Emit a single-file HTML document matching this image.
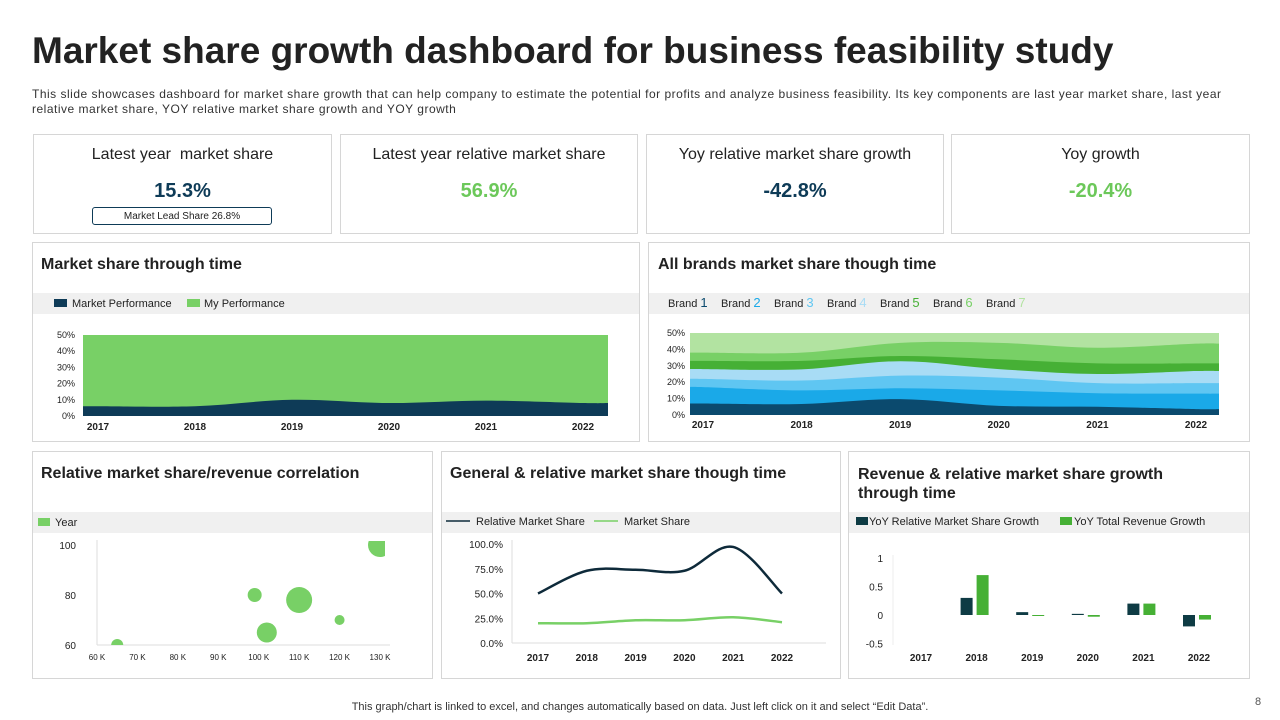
<!DOCTYPE html>
<html><head><meta charset="utf-8">
<style>
body{margin:0;width:1280px;height:720px;background:#fff;font-family:"Liberation Sans",sans-serif;position:relative;overflow:hidden;color:#222}
.abs{position:absolute}
.card{position:absolute;border:1px solid #d6d6d6;background:#fff;box-sizing:border-box}
.ct{position:absolute;left:0;right:0;text-align:center;font-size:16px;color:#222}
.cv{position:absolute;left:0;right:0;text-align:center;font-size:20px;font-weight:bold}
.pt{position:absolute;font-size:16px;color:#222;font-weight:bold}
.band{position:absolute;left:0;right:0;background:#f0f0f0;height:21px}
svg text{font-family:"Liberation Sans",sans-serif}
</style></head><body>
<div class="abs" style="left:32px;top:30px;font-size:37px;font-weight:bold;color:#222">Market share growth dashboard for business feasibility study</div>
<div class="abs" style="left:32px;top:87px;width:1240px;font-size:12px;line-height:15px;color:#333;white-space:nowrap;letter-spacing:0.5px">This slide showcases dashboard for market share growth that can help company to estimate the potential for profits and analyze business feasibility. Its key components are last year market share, last year<br>relative market share, YOY relative market share growth and YOY growth</div>

<div class="card" style="left:33px;top:134px;width:299px;height:100px">
<div class="ct" style="top:11px">Latest year &nbsp;market share</div>
<div class="cv" style="top:45px;color:#0e3b57">15.3%</div>
<div class="abs" style="left:58px;top:72px;width:180px;height:18px;border:1px solid #0e3b57;border-radius:3px;font-size:10px;text-align:center;line-height:18px;box-sizing:border-box">Market Lead Share 26.8%</div>
</div>
<div class="card" style="left:340px;top:134px;width:298px;height:100px">
<div class="ct" style="top:11px">Latest year relative market share</div>
<div class="cv" style="top:45px;color:#6cc85a">56.9%</div></div>
<div class="card" style="left:646px;top:134px;width:298px;height:100px">
<div class="ct" style="top:11px">Yoy relative market share growth</div>
<div class="cv" style="top:45px;color:#0e3b57">-42.8%</div></div>
<div class="card" style="left:951px;top:134px;width:299px;height:100px">
<div class="ct" style="top:11px">Yoy growth</div>
<div class="cv" style="top:45px;color:#6cc85a">-20.4%</div></div>

<div class="card" style="left:32px;top:242px;width:608px;height:200px">
<div class="pt" style="left:8px;top:13px">Market share through time</div>
<div class="band" style="top:50px"></div></div>
<div class="card" style="left:648px;top:242px;width:602px;height:200px">
<div class="pt" style="left:9px;top:13px">All brands market share though time</div>
<div class="band" style="top:50px"></div></div>
<div class="card" style="left:32px;top:451px;width:401px;height:228px">
<div class="pt" style="left:8px;top:13px">Relative market share/revenue correlation</div>
<div class="band" style="top:60px"></div></div>
<div class="card" style="left:441px;top:451px;width:400px;height:228px">
<div class="pt" style="left:8px;top:13px">General &amp; relative market share though time</div>
<div class="band" style="top:60px"></div></div>
<div class="card" style="left:848px;top:451px;width:402px;height:228px">
<div class="pt" style="left:9px;top:13px;line-height:19px">Revenue &amp; relative market share growth<br>through time</div>
<div class="band" style="top:60px"></div></div>

<svg id="ch" class="abs" style="left:0;top:0" width="1280" height="720"></svg>

<div class="abs" style="left:0;width:1280px;top:701px;text-align:center;font-size:11px;color:#333">This graph/chart is linked to excel, and changes automatically based on data. Just left click on it and select “Edit Data”.</div>
<div class="abs" style="left:1255px;top:696px;font-size:11px;color:#555">8</div>

<script>
const years=["2017","2018","2019","2020","2021","2022"];
const marketPerf=[6,6,10,8,9.5,8];
const myPerfTotal=[50,50,50,50,50,50];
const brandNames=["Brand 1","Brand 2","Brand 3","Brand 4","Brand 5","Brand 6","Brand 7"];
const brand1=[7,6.7,9.7,5.6,5,3.6];
const brand2=[10,8.3,6.6,9.4,8.3,9.4];
const brand3=[5,6,7.7,7.8,6.1,6.4];
const brand4=[6,6.8,8.8,5.2,5.6,7.4];
const brand5=[5,5.2,3.2,6,6.5,4.7];
const brand6=[5,5,8,10,9.5,12];
const brand7=[12,12,6,6,9,6.5];
const pctTicks=[0,10,20,30,40,50];
const bubbleX=[65,99,102,110,120,130];
const bubbleY=[60,80,65,78,70,100];
const bubbleSize=[6,7,10,13,5,12];
const xTicksK=[60,70,80,90,100,110,120,130];
const yTicksScatter=[60,80,100];
const relShare=[50,73,74,73,97,50];
const mktShare=[20,20,23,23,26,21];
const lineTicks=[0,25,50,75,100];
const yoyRel=[0,0.3,0.05,0.02,0.2,-0.2];
const yoyRev=[0,0.7,-0.01,-0.03,0.2,-0.08];
const barTicks=[-0.5,0,0.5,1];

const svg=document.getElementById('ch');const NS="http://www.w3.org/2000/svg";
function el(t,a,txt){const e=document.createElementNS(NS,t);for(const k in a)e.setAttribute(k,a[k]);if(txt!==undefined)e.textContent=txt;svg.appendChild(e);return e;}
function smooth(pts){let d="M"+pts[0][0]+","+pts[0][1];for(let i=0;i<pts.length-1;i++){const p0=pts[Math.max(i-1,0)],p1=pts[i],p2=pts[i+1],p3=pts[Math.min(i+2,pts.length-1)];const c1=[p1[0]+(p2[0]-p0[0])/6,p1[1]+(p2[1]-p0[1])/6],c2=[p2[0]-(p3[0]-p1[0])/6,p2[1]-(p3[1]-p1[1])/6];d+=" C"+c1+" "+c2+" "+p2;}return d;}

// Chart 1
{const X=i=>98+i*97,Y=v=>416-v*81/50,L=83,R=608;
let e;
e=el('rect',{x:54,y:299,width:13,height:8,fill:'#0e3b57'});
el('text',{x:72,y:307,'font-size':11,fill:'#222'},'Market Performance');
e=el('rect',{x:187,y:299,width:13,height:8,fill:'#78d066'});
el('text',{x:204,y:307,'font-size':11,fill:'#222'},'My Performance');
const top=[[L,Y(myPerfTotal[0])]].concat(myPerfTotal.map((v,i)=>[X(i),Y(v)])).concat([[R,Y(myPerfTotal[5])]]);
e=el('path',{d:smooth(top)+` L${R},416 L${L},416 Z`,fill:'#78d066'});
const mp=[[L,Y(marketPerf[0])]].concat(marketPerf.map((v,i)=>[X(i),Y(v)])).concat([[R,Y(marketPerf[5])]]);
e=el('path',{d:smooth(mp)+` L${R},416 L${L},416 Z`,fill:'#0e3b57'});
pctTicks.forEach(t=>el('text',{x:75,y:Y(t)+3,'font-size':9,'text-anchor':'end',fill:'#222'},t+'%'));
years.forEach((y,i)=>el('text',{x:X(i),y:430,'font-size':10,'font-weight':'bold','text-anchor':'middle',fill:'#222'},y));}

// Chart 2
{const X=i=>703+i*98.6,Y=v=>415-v*82/50,L=690,R=1219;
const cols=['#0b4a6e','#1aa9e8','#5fc6f2','#a8dcf5','#46b035','#78d066','#b2e3a1'];
const series=[brand1,brand2,brand3,brand4,brand5,brand6,brand7];
let lx=668;
brandNames.forEach((b,k)=>{const t=el('text',{x:lx,y:307,'font-size':11,fill:'#222'},'Brand ');
const ts=document.createElementNS(NS,'tspan');ts.setAttribute('fill',cols[k]);ts.setAttribute('font-size','13');ts.textContent=String(k+1);t.appendChild(ts);lx+=53;});
let base=[0,0,0,0,0,0];
const layers=series.map(s=>{const lo=base.slice();base=base.map((v,i)=>v+s[i]);return [lo,base.slice()];});
for(let k=6;k>=0;k--){const hi=layers[k][1];
const p=[[L,Y(hi[0])]].concat(hi.map((v,i)=>[X(i),Y(v)])).concat([[R,Y(hi[5])]]);
const e=el('path',{d:smooth(p)+` L${R},415 L${L},415 Z`,fill:cols[k]});}
pctTicks.forEach(t=>el('text',{x:685,y:Y(t)+3,'font-size':9,'text-anchor':'end',fill:'#222'},t+'%'));
years.forEach((y,i)=>el('text',{x:X(i),y:428,'font-size':10,'font-weight':'bold','text-anchor':'middle',fill:'#222'},y));}

// Scatter
{const X=v=>97+(v-60)*(283/70),Y=v=>645-(v-60)*2.5;
let e=el('rect',{x:38,y:518,width:12,height:8,fill:'#78d066'});
el('text',{x:55,y:526,'font-size':11,fill:'#222'},'Year');
el('line',{x1:97,y1:540,x2:97,y2:645,stroke:'#ddd'});el('line',{x1:97,y1:645,x2:390,y2:645,stroke:'#ddd'});
const clip=el('clipPath',{id:'sc'});const cp=document.createElementNS(NS,'rect');
cp.setAttribute('x',97);cp.setAttribute('y',541);cp.setAttribute('width',288);cp.setAttribute('height',104);clip.appendChild(cp);
bubbleX.forEach((v,i)=>{const c=el('circle',{cx:X(v),cy:Y(bubbleY[i]),r:bubbleSize[i],fill:'#78d066','clip-path':'url(#sc)'});});
yTicksScatter.forEach(t=>el('text',{x:76,y:Y(t)+4,'font-size':10,'text-anchor':'end',fill:'#222'},t));
xTicksK.forEach(t=>el('text',{x:X(t),y:660,'font-size':8,'text-anchor':'middle',fill:'#222'},t+' K'));}

// Line chart
{const X=i=>538+i*48.8,Y=v=>643-v*0.99;
let e=el('line',{x1:446,y1:521,x2:470,y2:521,stroke:'#0e2a3a','stroke-width':1.5});
el('text',{x:476,y:525,'font-size':11,fill:'#222'},'Relative Market Share');
e=el('line',{x1:594,y1:521,x2:618,y2:521,stroke:'#78d066','stroke-width':1.5});
el('text',{x:624,y:525,'font-size':11,fill:'#222'},'Market Share');
el('line',{x1:512,y1:643,x2:826,y2:643,stroke:'#ddd'});el('line',{x1:512,y1:540,x2:512,y2:643,stroke:'#ddd'});
lineTicks.forEach(t=>el('text',{x:503,y:Y(t)+4,'font-size':10,'text-anchor':'end',fill:'#222'},t.toFixed(1)+'%'));
years.forEach((y,i)=>el('text',{x:X(i),y:661,'font-size':10,'font-weight':'bold','text-anchor':'middle',fill:'#222'},y));
e=el('path',{d:smooth(mktShare.map((v,i)=>[X(i),Y(v)])),fill:'none',stroke:'#78d066','stroke-width':2.5});
e=el('path',{d:smooth(relShare.map((v,i)=>[X(i),Y(v)])),fill:'none',stroke:'#0e2a3a','stroke-width':2.5});}

// Bar chart
{const X=i=>921+i*55.6,Y=v=>615-v*57;
let e=el('rect',{x:856,y:517,width:12,height:8,fill:'#0e3b44'});
el('text',{x:869,y:525,'font-size':11,fill:'#222'},'YoY Relative Market Share Growth');
e=el('rect',{x:1060,y:517,width:12,height:8,fill:'#46b035'});
el('text',{x:1074,y:525,'font-size':11,fill:'#222'},'YoY Total Revenue Growth');
el('line',{x1:893,y1:555,x2:893,y2:645,stroke:'#eee'});
barTicks.forEach(t=>el('text',{x:883,y:Y(t)+4,'font-size':10,'text-anchor':'end',fill:'#222'},t));
years.forEach((y,i)=>{el('text',{x:X(i),y:661,'font-size':10,'font-weight':'bold','text-anchor':'middle',fill:'#222'},y);
const a=yoyRel[i],b=yoyRev[i];
let r=el('rect',{x:X(i)-16,y:Math.min(Y(a),Y(0)),width:12,height:Math.max(Math.abs(Y(a)-Y(0)),a!==0?1:0),fill:'#0e3b44'});
r=el('rect',{x:X(i)+0,y:Math.min(Y(b),Y(0)),width:12,height:Math.max(Math.abs(Y(b)-Y(0)),b!==0?1:0),fill:'#46b035'});});}
</script>
</body></html>
